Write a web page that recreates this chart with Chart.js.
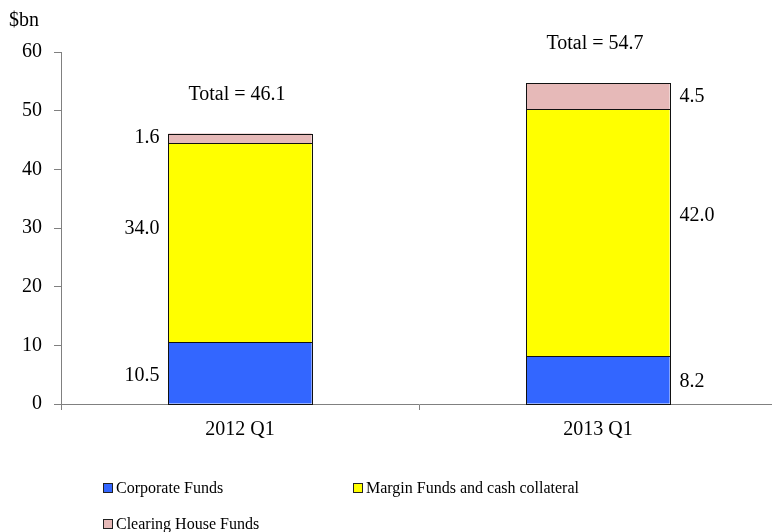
<!DOCTYPE html>
<html>
<head>
<meta charset="utf-8">
<script src="https://cdn.jsdelivr.net/npm/chart.js@4"></script>
<style>
  body { margin: 0; overflow: hidden; background: #fff; }
</style>
</head>
<body>
<canvas id="fundsChart" width="780" height="532"></canvas>
<script>
const categories = ['2012 Q1', '2013 Q1'];
const corporateFunds = [10.5, 8.2];
const marginFunds = [34.0, 42.0];
const clearingFunds = [1.6, 4.5];
const totals = [46.1, 54.7];
const seriesNames = ['Corporate Funds', 'Margin Funds and cash collateral', 'Clearing House Funds'];
const seriesColors = ['#3366ff', '#ffff00', '#e6b9b8'];

const FONT = '"Liberation Serif", "Times New Roman", serif';
// where the value label sits inside each segment (0 = bottom, 1 = top)
const labelPos = [0.45, 0.57, 0.5];

// outlines, labels next to segments, totals above bars, unit title and legend
const labelPlugin = {
    id: 'labelPlugin',
    afterDatasetsDraw(chart) {
        const ctx = chart.ctx;
        ctx.save();
        ctx.strokeStyle = '#111';
        ctx.lineWidth = 1;
        chart.data.datasets.forEach((ds, di) => {
            chart.getDatasetMeta(di).data.forEach(bar => {
                const l = Math.round(bar.x - bar.width / 2) + 0.5;
                const r = Math.round(bar.x + bar.width / 2) + 0.5;
                const t = Math.round(bar.y) + 0.5;
                const b = Math.round(bar.base) + 0.5;
                ctx.strokeRect(l, t, r - l, b - t);
            });
        });

        ctx.fillStyle = '#000';
        ctx.font = '20px ' + FONT;
        ctx.textBaseline = 'middle';
        chart.data.datasets.forEach((ds, di) => {
            chart.getDatasetMeta(di).data.forEach((bar, i) => {
                const yLab = bar.base + (bar.y - bar.base) * labelPos[di];
                const half = bar.width / 2;
                const txt = ds.data[i].toFixed(1);
                if (i === 0) {
                    ctx.textAlign = 'right';
                    ctx.fillText(txt, bar.x - half - 9, yLab);
                } else {
                    ctx.textAlign = 'left';
                    ctx.fillText(txt, bar.x + half + 10, yLab);
                }
            });
        });
        const y = chart.scales.y;
        const x = chart.scales.x;
        ctx.textAlign = 'center';
        totals.forEach((t, i) => {
            ctx.fillText('Total = ' + t.toFixed(1), x.getPixelForValue(i) - 3, y.getPixelForValue(t) - 39);
        });
        ctx.textAlign = 'left';
        ctx.fillText('$bn', 9, 21);

        // legend
        ctx.font = '16px ' + FONT;
        const items = [[103, 488], [353, 488], [103, 524]];
        items.forEach((p, k) => {
            ctx.fillStyle = seriesColors[k];
            ctx.fillRect(p[0], p[1] - 5, 10, 10);
            ctx.strokeStyle = '#222';
            ctx.strokeRect(p[0] + 0.5, p[1] - 4.5, 9, 9);
            ctx.fillStyle = '#000';
            ctx.fillText(seriesNames[k], p[0] + 13, p[1] + 1);
        });
        ctx.restore();
    }
};

new Chart(document.getElementById('fundsChart'), {
    type: 'bar',
    data: {
        labels: categories,
        datasets: [
            { label: seriesNames[0], data: corporateFunds, backgroundColor: seriesColors[0] },
            { label: seriesNames[1], data: marginFunds, backgroundColor: seriesColors[1] },
            { label: seriesNames[2], data: clearingFunds, backgroundColor: seriesColors[2] }
        ].map(d => Object.assign(d, {
            borderWidth: 0,
            barPercentage: 1,
            categoryPercentage: 0.4
        }))
    },
    options: {
        responsive: false,
        animation: false,
        layout: {
            padding: { top: 52, left: 0, right: 3, bottom: 0 }
        },
        scales: {
            x: {
                stacked: true,
                grid: {
                    display: true,
                    drawOnChartArea: false,
                    drawTicks: true,
                    tickLength: 6,
                    offset: true,
                    color: '#808080'
                },
                border: { color: '#808080' },
                ticks: {
                    color: '#000',
                    font: { family: FONT, size: 20 },
                    padding: 8
                },
                afterFit: s => { s.height = 128; }
            },
            y: {
                stacked: true,
                min: 0,
                max: 60,
                grid: {
                    display: true,
                    drawOnChartArea: false,
                    drawTicks: true,
                    tickLength: 7,
                    color: '#808080'
                },
                border: { color: '#808080' },
                ticks: {
                    stepSize: 10,
                    color: '#000',
                    font: { family: FONT, size: 20 },
                    padding: 12
                },
                afterFit: s => { s.width = 61; }
            }
        },
        plugins: {
            legend: { display: false },
            tooltip: { enabled: false }
        }
    },
    plugins: [labelPlugin]
});
</script>
</body>
</html>
